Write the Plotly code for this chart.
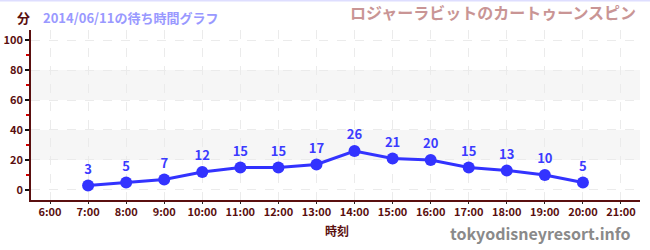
import plotly.graph_objects as go

hours = [7, 8, 9, 10, 11, 12, 13, 14, 15, 16, 17, 18, 19, 20]
waits = [3, 5, 7, 12, 15, 15, 17, 26, 21, 20, 15, 13, 10, 5]
xtick_vals = list(range(6, 22))
xtick_text = [f"{h}:00" for h in xtick_vals]
ytick_vals = [0, 20, 40, 60, 80, 100]
bands = [(20, 40), (60, 80)]

FONT = "Noto Sans CJK JP"
AXIS = "#5a0f0f"

fig = go.Figure()
fig.add_trace(go.Scatter(
    x=hours, y=waits, mode="lines+markers+text",
    text=[str(v) for v in waits], textposition="top center",
    textfont=dict(family=FONT, size=13, color="#3b3bff", weight="bold"),
    line=dict(color="#3333ff", width=3),
    marker=dict(color="#3333ff", size=12),
    cliponaxis=False, hoverinfo="skip", showlegend=False,
))

for y0, y1 in bands:
    fig.add_shape(type="rect", xref="paper", x0=0, x1=1, yref="y", y0=y0, y1=y1,
                  fillcolor="#f6f6f6", line_width=0, layer="below")

fig.add_shape(type="line", xref="paper", yref="paper", x0=-0.1, x1=1.1, y0=1.1735, y1=1.1735,
              line=dict(color="#dedeff", width=2))

fig.update_layout(
    width=650, height=250,
    margin=dict(l=31, r=10, t=30, b=50, autoexpand=False),
    paper_bgcolor="white", plot_bgcolor="white",
    font=dict(family=FONT, color=AXIS),
    xaxis=dict(
        range=[5.5, 21.5], tickvals=xtick_vals, ticktext=xtick_text, automargin=False,
        tickfont=dict(family=FONT, size=11, color=AXIS, weight="bold"),
        showline=True, linecolor=AXIS, linewidth=1.5,
        showgrid=True, gridcolor="#ebebeb", griddash="dash", gridwidth=1,
        zeroline=False, ticks="outside", ticklen=2, tickcolor="#222", tickwidth=1,
        ticklabelstandoff=-1,
    ),
    yaxis=dict(
        range=[-6.7, 106.7], tickvals=ytick_vals, automargin=False,
        tickfont=dict(family=FONT, size=11, color=AXIS, weight="bold"),
        showline=True, linecolor=AXIS, linewidth=1.5,
        showgrid=True, gridcolor="#ebebeb", griddash="dash", gridwidth=1,
        zeroline=False, ticks="outside", ticklen=4, tickcolor="#111", tickwidth=1.5,
        minor=dict(tickvals=[10, 30, 50, 70, 90], ticks="outside", ticklen=3, tickcolor="#d00000", showgrid=False),
    ),
    annotations=[
        dict(text="分", xref="paper", yref="paper", x=-0.0262, y=1.076, xanchor="left", yanchor="middle",
             showarrow=False, font=dict(family=FONT, size=13, color=AXIS, weight="bold")),
        dict(text="2014/06/11の待ち時間グラフ", xref="paper", yref="paper", x=0.0164, y=1.076,
             xanchor="left", yanchor="middle", showarrow=False,
             font=dict(family=FONT, size=13, color="#9999ff", weight="bold")),
        dict(text="ロジャーラビットのカートゥーンスピン", xref="paper", yref="paper", x=0.9967, y=1.106,
             xanchor="right", yanchor="middle", showarrow=False,
             font=dict(family=FONT, size=16, color="#c99595", weight="bold")),
        dict(text="時刻", xref="paper", yref="paper", x=0.502, y=-0.182,
             xanchor="center", yanchor="middle", showarrow=False,
             font=dict(family=FONT, size=12, color=AXIS, weight="bold")),
        dict(text="tokyodisneyresort.info", xref="paper", yref="paper", x=0.9885, y=-0.194,
             xanchor="right", yanchor="middle", showarrow=False,
             font=dict(family=FONT, size=16, color="#8a8a8a", weight="bold")),
    ],
)

fig.write_html("out.html")
